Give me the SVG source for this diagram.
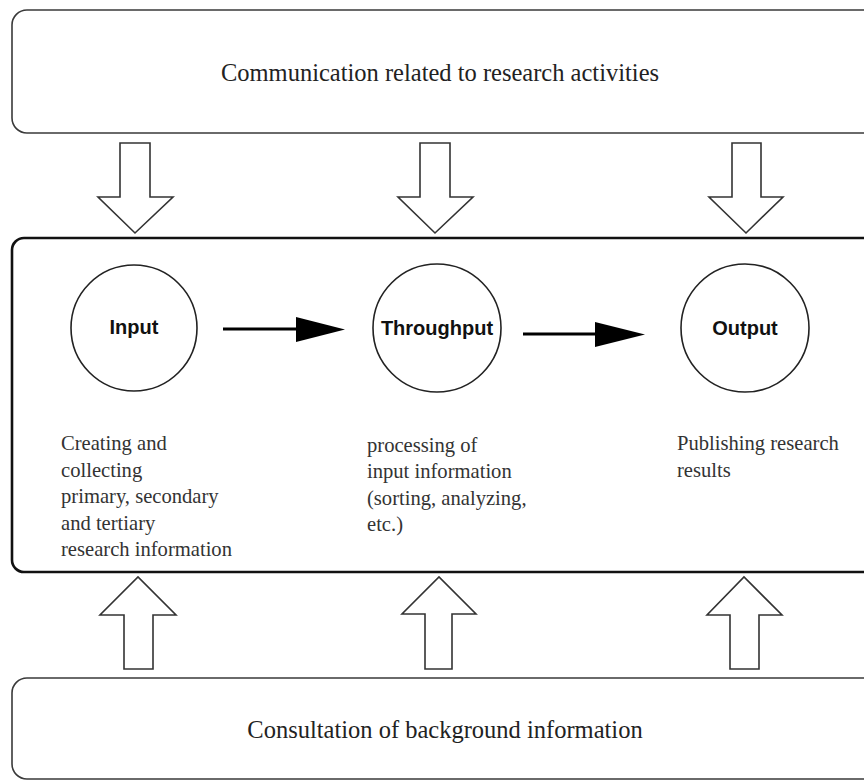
<svg xmlns="http://www.w3.org/2000/svg" width="864" height="780" viewBox="0 0 864 780">
<style>
.box{fill:#fff;stroke:#3a3a3a;stroke-width:1.6}
.main{fill:#fff;stroke:#111;stroke-width:2.6}
.blk{fill:#fff;stroke:#333;stroke-width:1.6;stroke-linejoin:miter}
.circ{fill:#fff;stroke:#222;stroke-width:1.6}
.lbl{font-family:"Liberation Sans",Arial,sans-serif;font-weight:bold;font-size:20px;fill:#111;text-anchor:middle}
.body{font-family:"Liberation Serif","Times New Roman",serif;font-size:20.6px;fill:#333}
.big{font-family:"Liberation Serif","Times New Roman",serif;font-size:24.5px;fill:#222;text-anchor:middle}
.line{stroke:#000;stroke-width:3;fill:none}
</style>
<rect width="864" height="780" fill="#fff"/>
<g id="top-box">
<rect class="box" x="12" y="10" width="880" height="123" rx="15"/>
<text class="big" x="440" y="81">Communication related to research activities</text>
</g>
<g id="main-box">
<rect class="main" x="12" y="238" width="880" height="334" rx="12"/>
</g>
<g id="bottom-box">
<rect class="box" x="12" y="678" width="880" height="101" rx="15"/>
<text class="big" x="445" y="738">Consultation of background information</text>
</g>
<g id="input">
<circle class="circ" cx="134" cy="328" r="63"/>
<text class="lbl" x="134" y="334">Input</text>
<text class="body" x="61" y="450">Creating and<tspan x="61" y="477">collecting</tspan><tspan x="61" y="503">primary, secondary</tspan><tspan x="61" y="530">and tertiary</tspan><tspan x="61" y="556">research information</tspan></text>
</g>
<g id="throughput">
<circle class="circ" cx="437" cy="328" r="64"/>
<text class="lbl" x="437" y="335">Throughput</text>
<text class="body" x="367" y="452">processing of<tspan x="367" y="478">input information</tspan><tspan x="367" y="505">(sorting, analyzing,</tspan><tspan x="367" y="531">etc.)</tspan></text>
</g>
<g id="output">
<circle class="circ" cx="745" cy="328" r="64"/>
<text class="lbl" x="745" y="335">Output</text>
<text class="body" x="677" y="450">Publishing research<tspan x="677" y="477">results</tspan></text>
</g>
<g id="connectors">
<path class="blk" d="M120,143 H150 V197 H173 L135,233 L98,197 H120 Z"/>
<path class="blk" d="M420,143 H450 V197 H473 L435,233 L398,197 H420 Z"/>
<path class="blk" d="M732,143 H761 V197 H783 L746,233 L709,197 H732 Z"/>
<path class="blk" d="M124,669 H153 V615 H176 L138,577 L100,615 H124 Z"/>
<path class="blk" d="M425,669 H452 V614 H476 L439,577 L402,614 H425 Z"/>
<path class="blk" d="M730,669 H759 V615 H782 L744,577 L707,615 H730 Z"/>
<line class="line" x1="223" y1="329" x2="300" y2="329"/>
<polygon points="296,317 345,329.5 296,342" fill="#000"/>
<line class="line" x1="523" y1="334" x2="598" y2="334"/>
<polygon points="595,322 645,334.5 595,347" fill="#000"/>
</g>
</svg>
